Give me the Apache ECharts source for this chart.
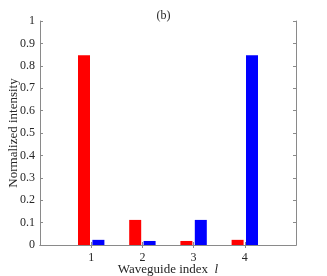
<!DOCTYPE html>
<html><head><meta charset="utf-8">
<script src="https://cdn.jsdelivr.net/npm/echarts@6/dist/echarts.min.js"></script>
<style>html,body{margin:0;padding:0;background:#fff}#c{width:327px;height:276px}</style>
</head><body><div id="c"></div>
<script>
const categories = ['', '1', '2', '3', '4', ''];
const redValues = [null, 0.847, 0.112, 0.018, 0.023, null];
const blueValues = [null, 0.023, 0.018, 0.112, 0.847, null];
const yTicks = [0, 0.1, 0.2, 0.3, 0.4, 0.5, 0.6, 0.7, 0.8, 0.9, 1];

const font = 'Liberation Serif';
const axisCol = '#8a8a8a';
const txtCol = '#262626';
const chart = echarts.init(document.getElementById('c'));
chart.setOption({
  animation: false,
  title: { text: '(b)', left: 'center', top: 5, textStyle: { fontFamily: font, fontSize: 12, fontWeight: 'normal', color: txtCol } },
  grid: { left: 40, right: 31, top: 21, bottom: 31, containLabel: false, outerBoundsMode: 'none' },
  xAxis: [{
    type: 'category', data: categories, boundaryGap: false,
    axisLine: { lineStyle: { color: axisCol } },
    axisTick: { inside: true, length: 3, lineStyle: { color: axisCol }, interval: (i) => i > 0 && i < 5 },
    axisLabel: { fontFamily: font, fontSize: 12, color: txtCol, margin: 7, interval: 0 },
    name: 'Waveguide index  {i|l}', nameLocation: 'middle', nameGap: 18, nameMoveOverlap: false,
    nameTextStyle: { fontFamily: font, fontSize: 13, color: txtCol, rich: { i: { fontFamily: font, fontStyle: 'italic', fontSize: 13, color: txtCol } } }
  }, {
    type: 'category', data: categories, boundaryGap: false, position: 'top',
    axisLine: { lineStyle: { color: axisCol } },
    axisTick: { inside: true, length: 3, lineStyle: { color: axisCol }, interval: (i) => i > 0 && i < 5 },
    axisLabel: { show: false }
  }],
  yAxis: [{
    type: 'value', min: 0, max: 1, interval: 0.1,
    axisLine: { show: true, lineStyle: { color: axisCol } },
    axisTick: { show: true, inside: true, length: 3, lineStyle: { color: axisCol } },
    splitLine: { show: false },
    axisLabel: { fontFamily: font, fontSize: 12, color: txtCol, margin: 5, formatter: (v) => String(+v.toFixed(1)) },
    name: 'Normalized intensity', nameLocation: 'middle', nameGap: 20, nameMoveOverlap: false,
    nameTextStyle: { fontFamily: font, fontSize: 13, color: txtCol }
  }, {
    type: 'value', min: 0, max: 1, interval: 0.1, position: 'right',
    axisLine: { show: true, lineStyle: { color: axisCol } },
    axisTick: { show: true, inside: true, length: 3, lineStyle: { color: axisCol } },
    splitLine: { show: false }, axisLabel: { show: false }
  }],
  series: [
    { type: 'bar', data: redValues, barWidth: 12, barGap: '20%', itemStyle: { color: '#ff0000' } },
    { type: 'bar', data: blueValues, barWidth: 12, barGap: '20%', itemStyle: { color: '#0000ff' } }
  ]
});
</script></body></html>
